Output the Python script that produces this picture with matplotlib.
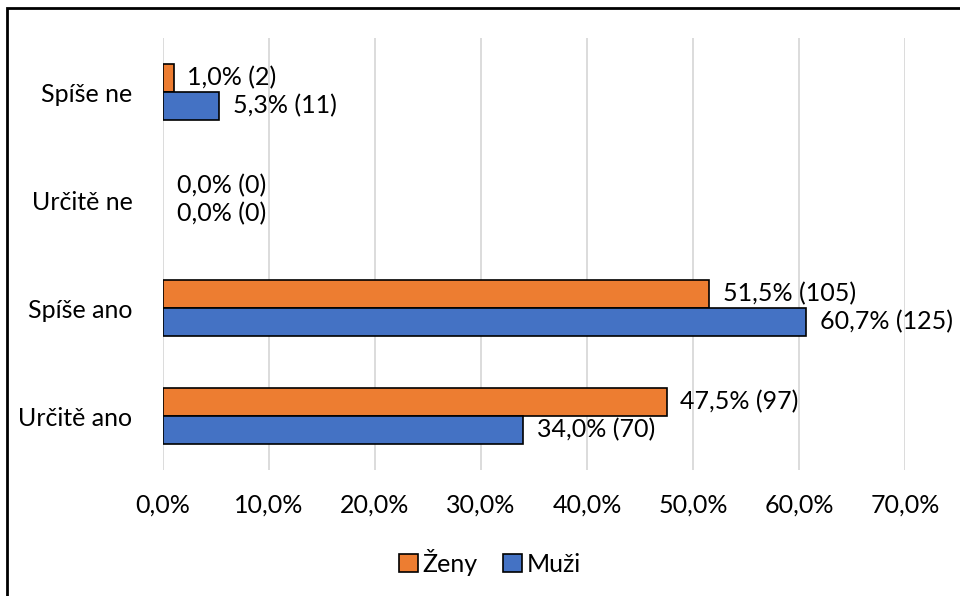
import matplotlib.pyplot as plt
from matplotlib.patches import Rectangle
import numpy as np

# data (bottom to top)
categories = ["Určitě ano", "Spíše ano", "Určitě ne", "Spíše ne"]
zeny_pct = [47.5, 51.5, 0.0, 1.0]
zeny_n = [97, 105, 0, 2]
muzi_pct = [34.0, 60.7, 0.0, 5.3]
muzi_n = [70, 125, 0, 11]
xticks = [0, 10, 20, 30, 40, 50, 60, 70]

plt.rcParams['font.family'] = ['Lato', 'DejaVu Sans']
fs = 18

fig = plt.figure(figsize=(9.6, 5.96), dpi=100)
ax = fig.add_axes([163/960, 1-470/596, (905-163)/960, (470-38)/596])

y = np.arange(len(categories))
h = 0.26
orange = '#ED7D31'
blue = '#4472C4'
ax.barh(y + h/2, zeny_pct, height=h, color=orange, edgecolor='black',
        linewidth=[1.2 if v > 0 else 0 for v in zeny_pct], label='Ženy', zorder=3)
ax.barh(y - h/2, muzi_pct, height=h, color=blue, edgecolor='black',
        linewidth=[1.2 if v > 0 else 0 for v in muzi_pct], label='Muži', zorder=3)

def lab(p, n):
    return f"{p:.1f}% ({n})".replace('.', ',')

for i in range(len(categories)):
    ax.annotate(lab(zeny_pct[i], zeny_n[i]), (zeny_pct[i], y[i] + h/2), xytext=(10, 0),
                textcoords='offset points', va='center', ha='left', fontsize=fs)
    ax.annotate(lab(muzi_pct[i], muzi_n[i]), (muzi_pct[i], y[i] - h/2), xytext=(10, 0),
                textcoords='offset points', va='center', ha='left', fontsize=fs)

ax.set_xlim(0, 70)
ax.set_ylim(-0.5, len(categories) - 0.5)
ax.set_xticks(xticks)
ax.set_xticklabels([f"{t:.1f}%".replace('.', ',') for t in xticks], fontsize=fs)
ax.set_yticks(y)
ax.set_yticklabels(categories, fontsize=fs)
ax.tick_params(axis='x', length=0, pad=17)
ax.tick_params(axis='y', length=0, pad=22)
ax.grid(axis='x', color='#d9d9d9', linewidth=1.3, zorder=0)
for s in ax.spines.values():
    s.set_visible(False)

ax.legend(loc='center', bbox_to_anchor=(490/960, 1-562/596), bbox_transform=fig.transFigure,
          ncol=2, frameon=False, fontsize=fs, handlelength=0.75, handleheight=0.75,
          handletextpad=0.2, columnspacing=1.0)

# border around the chart area
fig.patches.append(Rectangle((7/960, -0.1), 1.2, 1 - 8/596 + 0.1, transform=fig.transFigure,
                             fill=False, edgecolor='black', linewidth=2))

fig.savefig("out.png", dpi=100)
